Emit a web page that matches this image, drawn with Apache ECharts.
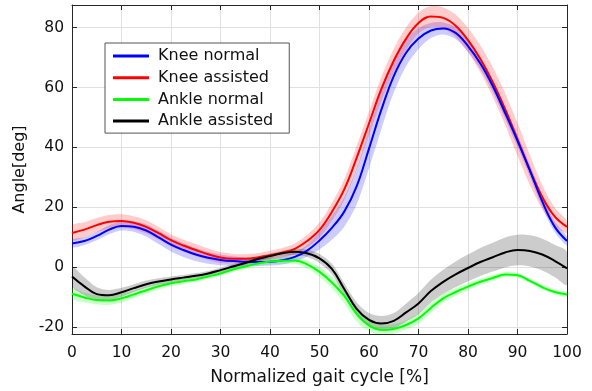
<!DOCTYPE html>
<html>
<head>
<meta charset="utf-8">
<script src="https://cdn.jsdelivr.net/npm/echarts@6/dist/echarts.min.js"></script>
<style>
html,body{margin:0;padding:0;background:#fff;}
#chart{width:592px;height:391px;}
</style>
</head>
<body>
<div id="chart"></div>
<script>
// Gait cycle samples (%)
const gaitX = [0,2.5,5,7.5,10,12.5,15,17.5,20,22.5,25,27.5,30,32.5,35,37.5,40,42.5,45,47.5,50,52.5,55,57.5,60,62.5,65,67.5,70,72.5,75,77.5,80,82.5,85,87.5,90,92.5,95,97.5,100];

const kneeNormal = [8.0,8.8,10.5,12.6,13.8,13.6,12.3,10.0,7.6,5.8,4.3,3.2,2.5,2.1,1.9,1.8,1.9,2.4,3.5,5.6,9.0,13.2,18.6,27.0,39.6,52.6,63.8,71.6,76.3,79.0,79.7,78.2,73.8,68.0,60.5,51.5,42.2,32.3,22.0,13.6,8.8];
const kneeNormalSd = [1.3,1.3,1.4,1.5,1.5,1.7,2.0,2.2,2.3,2.3,2.2,2.0,1.8,1.6,1.4,1.3,1.3,1.4,1.6,2.0,3.0,4.0,5.0,6.0,6.5,6.5,5.5,4.5,3.5,2.5,2.0,2.0,2.0,2.0,2.0,2.0,2.0,2.0,2.0,1.8,1.5];

const kneeAssisted = [11.5,12.6,14.1,15.2,15.5,14.9,13.5,11.4,9.1,7.3,5.8,4.4,3.3,2.9,2.9,3.3,4.1,4.9,6.2,8.8,12.5,18.5,26.0,36.5,48.0,59.5,68.9,76.3,81.5,83.7,83.2,80.6,75.8,69.5,61.8,52.8,42.7,32.5,23.5,17.0,13.5];
const kneeAssistedSd = [2.5,2.5,2.4,2.3,2.2,2.2,2.2,2.1,2.0,2.0,2.0,1.9,1.8,1.6,1.5,1.5,1.5,1.6,1.8,2.1,2.5,3.0,3.5,4.0,4.0,4.0,4.0,3.8,3.5,3.5,3.5,3.7,4.0,4.5,5.0,5.3,5.5,5.0,4.0,3.0,2.0];

const ankleNormal = [-8.8,-10.0,-10.9,-11.0,-10.3,-9.0,-7.6,-6.3,-5.3,-4.6,-4.0,-3.0,-2.0,-0.7,0.3,1.3,2.0,2.2,2.3,1.0,-1.5,-5.0,-9.5,-15.5,-19.3,-20.8,-20.5,-19.2,-17.0,-13.5,-10.3,-8.2,-6.4,-4.8,-3.5,-2.4,-2.6,-4.5,-6.6,-8.2,-9.0];
const ankleNormalSd = [1.7,1.6,1.5,1.5,1.5,1.3,1.2,1.1,1.0,1.0,0.9,0.9,0.8,0.8,0.8,0.9,1.0,1.1,1.2,1.4,1.6,2.0,2.5,2.5,2.0,1.8,1.6,1.6,1.8,1.7,1.5,1.3,1.2,1.1,1.0,0.9,0.8,0.8,0.8,0.8,0.8];

const ankleAssisted = [-3.0,-6.3,-8.9,-9.3,-8.3,-6.9,-5.6,-4.7,-4.0,-3.4,-2.8,-2.0,-0.9,0.3,1.5,2.8,3.8,4.7,5.2,4.7,3.0,-0.5,-7.2,-13.8,-17.5,-18.7,-17.8,-15.0,-12.0,-7.9,-4.8,-2.3,-0.2,1.8,3.4,5.0,5.8,5.5,4.3,2.2,-0.3];
const ankleAssistedSd = [3.3,3.0,2.3,1.8,1.5,1.3,1.2,1.1,1.0,0.9,0.9,0.8,0.8,0.8,0.8,0.8,0.8,0.9,1.0,1.2,1.5,1.8,2.0,2.2,2.3,2.5,2.6,3.0,3.5,3.8,4.0,4.3,4.5,4.7,4.8,5.0,5.1,5.2,5.3,5.4,5.5];

const xTicks = [0,10,20,30,40,50,60,70,80,90,100];
const yTicks = [-20,0,20,40,60,80];

const seriesDefs = [
  {name:'Knee normal', mean:kneeNormal, sd:kneeNormalSd, color:'#0000ff', band:'rgba(0,0,255,0.2)'},
  {name:'Knee assisted', mean:kneeAssisted, sd:kneeAssistedSd, color:'#ff0000', band:'rgba(255,0,0,0.2)'},
  {name:'Ankle normal', mean:ankleNormal, sd:ankleNormalSd, color:'#00ff00', band:'rgba(0,255,0,0.2)'},
  {name:'Ankle assisted', mean:ankleAssisted, sd:ankleAssistedSd, color:'#000000', band:'rgba(0,0,0,0.2)'}
];

const FONT = 'DejaVu Sans';
const series = [];
seriesDefs.forEach((d) => {
  const rows = gaitX.map((x, k) => [x, d.mean[k] - d.sd[k], d.mean[k] + d.sd[k]]);
  series.push({
    type:'custom', silent:true, z:1,
    data: rows,
    encode:{x:0, y:[1,2]},
    renderItem: function (params, api) {
      if (params.dataIndex !== 0) return null;
      const upper = rows.map(r => api.coord([r[0], r[2]]));
      const lower = rows.map(r => api.coord([r[0], r[1]])).reverse();
      return {
        type:'polygon',
        shape:{points: upper.concat(lower), smooth:0.3},
        style:{fill:d.band, stroke:null},
        clipPath:{type:'rect', shape:{x:params.coordSys.x, y:params.coordSys.y, width:params.coordSys.width, height:params.coordSys.height}}
      };
    }
  });
});
// lines: red before blue, green before black
[1,0,2,3].forEach(i => {
  const d = seriesDefs[i];
  series.push({
    name:d.name, type:'line', smooth:0.4, symbol:'none',
    data: gaitX.map((x, k) => [x, d.mean[k]]),
    itemStyle:{color:d.color},
    lineStyle:{color:d.color, width:2}, z:3
  });
});

const axisColor = '#262626';
const gridColor = '#e0e0e0';
const chart = echarts.init(document.getElementById('chart'), null, {renderer:'canvas'});
chart.setOption({
  animation:false,
  backgroundColor:'#ffffff',
  textStyle:{fontFamily:FONT},
  grid:{left:72, right:25, top:5, bottom:57, containLabel:false},
  legend:{
    data: seriesDefs.map(d => d.name),
    orient:'vertical', left:105, top:43,
    padding:[4, 16, 3, 8], itemGap:3.7, itemWidth:36, itemHeight:3, icon:'rect',
    backgroundColor:'#ffffff', borderColor:'#555555', borderWidth:1,
    textStyle:{fontFamily:FONT, fontSize:16, color:'#111111', lineHeight:18, padding:[0,0,0,4]}
  },
  xAxis:[{
    type:'value', min:xTicks[0], max:xTicks[xTicks.length-1], interval:10, position:'bottom',
    name:'Normalized gait cycle [%]', nameLocation:'middle', nameGap:35,
    nameTextStyle:{fontFamily:FONT, fontSize:17, color:'#111111'},
    axisLine:{show:true, onZero:false, lineStyle:{color:axisColor, width:1}},
    axisTick:{show:true, inside:true, length:5, lineStyle:{color:axisColor}},
    axisLabel:{fontFamily:FONT, fontSize:15.5, color:'#111111', margin:11},
    splitLine:{show:true, lineStyle:{color:gridColor, width:1}}
  },{
    type:'value', min:xTicks[0], max:xTicks[xTicks.length-1], interval:10, position:'top',
    axisLine:{show:true, onZero:false, lineStyle:{color:axisColor, width:1}},
    axisTick:{show:true, inside:true, length:5, lineStyle:{color:axisColor}},
    axisLabel:{show:false}, splitLine:{show:false}
  }],
  yAxis:[{
    type:'value', min:-22.2, max:87.5, splitNumber:5, position:'left',
    name:'Angle[deg]', nameLocation:'middle', nameGap:35,
    nameTextStyle:{fontFamily:FONT, fontSize:16, color:'#111111'},
    axisLine:{show:true, onZero:false, lineStyle:{color:axisColor, width:1}},
    axisTick:{show:true, inside:true, length:5, lineStyle:{color:axisColor}},
    axisLabel:{fontFamily:FONT, fontSize:15.5, color:'#111111', margin:8,
      formatter: v => (yTicks.indexOf(Math.round(v*1000)/1000) >= 0 ? String(v) : '')},
    splitLine:{show:true, lineStyle:{color:gridColor, width:1}}
  },{
    type:'value', min:-22.2, max:87.5, splitNumber:5, position:'right',
    axisLine:{show:true, onZero:false, lineStyle:{color:axisColor, width:1}},
    axisTick:{show:true, inside:true, length:5, lineStyle:{color:axisColor}},
    axisLabel:{show:false}, splitLine:{show:false}
  }],
  series: series
});
</script>
</body>
</html>
